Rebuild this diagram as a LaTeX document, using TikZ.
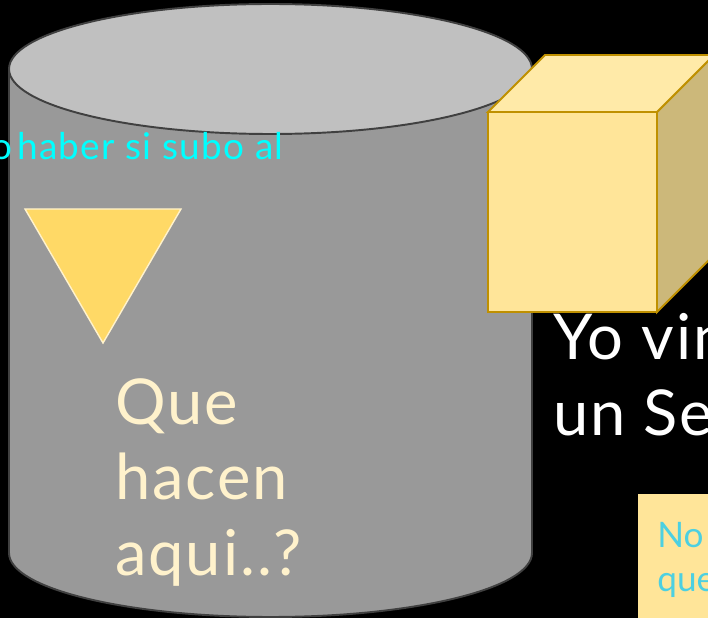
\documentclass[tikz,border=0pt]{standalone}
\usepackage{fontspec}
\setmainfont{Lato}
\usetikzlibrary{positioning}

\definecolor{cylside}{HTML}{999999}
\definecolor{cyltop}{HTML}{C0C0C0}
\definecolor{cylline}{HTML}{404040}
\definecolor{gold}{HTML}{FFD966}
\definecolor{cream}{HTML}{FFF2CC}
\definecolor{cubefront}{HTML}{FFE599}
\definecolor{cubetop}{HTML}{FFEAA8}
\definecolor{cubeside}{HTML}{CCB87A}
\definecolor{cubeline}{HTML}{BF9000}
\definecolor{notetext}{HTML}{4DD0E1}
\definecolor{hintcyan}{HTML}{00FFFF}

\begin{document}
\begin{tikzpicture}[
  x=0.02cm, y=-0.02cm,
  cyl/.style={draw=cylline, line width=1.1pt},
  face/.style={draw=cubeline, line width=1.1pt, line join=miter},
  big/.style={inner sep=0pt, align=left, text=cream,
              font=\fontsize{36}{43}\selectfont\addfontfeatures{LetterSpace=3}},
  hint/.style={inner sep=0pt, text=hintcyan,
               font=\fontsize{21}{25}\selectfont\addfontfeatures{LetterSpace=3.5}}
]
\useasboundingbox (0,0) rectangle (708,618);
\clip (0,0) rectangle (708,618);
\fill[black] (0,0) rectangle (708,618);

% cylinder
\filldraw[cyl, fill=cylside] (270.5,553) ellipse [x radius=261.5, y radius=64];
\fill[cylside] (9,69) rectangle (532,553);
\draw[cyl] (9,69) -- (9,553);
\draw[cyl] (532,69) -- (532,553);
\filldraw[cyl, fill=cyltop] (270.5,69) ellipse [x radius=261.5, y radius=65];

\node[hint, anchor=north east] (subo) at (284,132) {o\hspace{-0.16em} haber si subo al};

% triangle
\filldraw[fill=gold, draw=cream, line width=0.8pt] (25,209) -- (181,209) -- (103,343) -- cycle;

\node[big, anchor=north west, text=cream] (que) at (115,378) {Que\\hacen\\aqui..?};

% cube
\filldraw[face, fill=cubeside] (657,112) -- (714,55) -- (714,255) -- (657,312) -- cycle;
\filldraw[face, fill=cubetop] (488,112) -- (545,55) -- (714,55) -- (657,112) -- cycle;
\filldraw[face, fill=cubefront] (488,112) rectangle (657,312);

\node[big, anchor=north west, text=white] (yo) at (553,313) {Yo vin\\un Se};

% note
\fill[cubefront] (638,494) rectangle (720,630);
\node[inner sep=0pt, anchor=north west, align=left, text=notetext,
      font=\fontsize{20}{25}\selectfont] (nota) at (657,522) {No\\que};
\end{tikzpicture}
\end{document}
